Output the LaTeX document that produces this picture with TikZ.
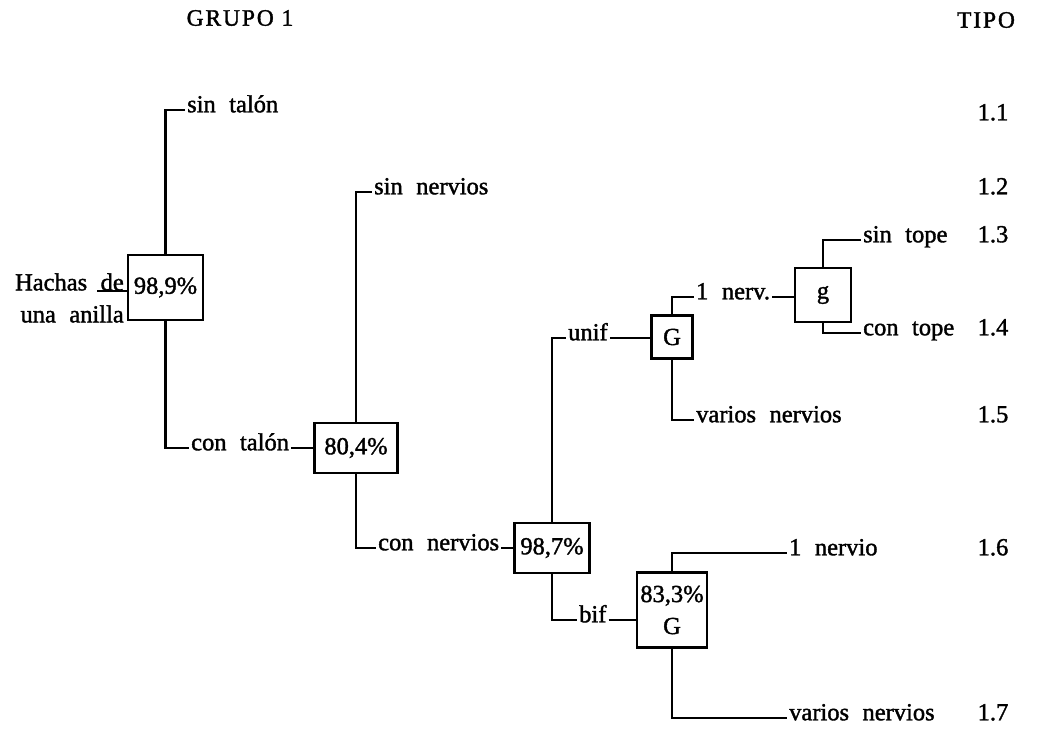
\documentclass[tikz,border=0pt]{standalone}
\usepackage{fontspec}
\setmainfont{Liberation Serif}[WordSpace=2.2, FakeBold=1.5]
\newfontfamily\headfont{Liberation Serif}[LetterSpace=8, FakeBold=1.5]
\usetikzlibrary{positioning}
\tikzset{
  cbox/.style={rectangle, draw, line width=2.3pt, inner sep=1pt, align=center},
  clab/.style={anchor=west, inner sep=2pt, text height=0.67em, text depth=0.22em},
  cnum/.style={inner sep=0pt, text height=0.67em, text depth=0.22em},
  chead/.style={inner sep=0pt, font=\headfont\fontsize{23.5}{26}\selectfont},
  clin/.style={line width=2.6pt}
}

\begin{document}
\begin{tikzpicture}[x=1pt, y=-1pt, font=\fontsize{24.5}{32}\selectfont]
\useasboundingbox (0,0) rectangle (1038,732);
\node[chead] (grupo) at (240,18) {GRUPO 1};
\node[chead] (tipo) at (986,20) {TIPO};
% cajas
\node[cbox, minimum width=75pt, minimum height=65pt] (root) at (165.5,287.5) {98,9\%};
\node[cbox, minimum width=83pt, minimum height=50pt] (talon) at (356,448) {80,4\%};
\node[cbox, minimum width=75pt, minimum height=50pt] (nerv) at (552,548) {98,7\%};
\node[cbox, minimum width=41pt, minimum height=43pt] (gunif) at (672,337) {G};
\node[cbox, minimum width=56pt, minimum height=54pt] (gtope) at (823,295) {g};
\node[cbox, minimum width=70pt, minimum height=75pt] (gbif) at (672,610) {83,3\%\\G};
% textos
\node[align=right, anchor=east, inner sep=0pt] (hachas) at (124,298) {Hachas de\\una anilla};
\coordinate (hin) at (97,291);
\node[clab] (sintalon) at (185,110) {sin talón};
\node[clab] (contalon) at (189,448) {con talón};
\node[clab] (sinnerv) at (372,192) {sin nervios};
\node[clab] (connerv) at (376,548) {con nervios};
\node[clab] (unif) at (566,338) {unif};
\node[clab] (bif) at (577,620) {bif};
\node[clab] (nerv1) at (694,297) {1 nerv.};
\node[clab] (varios1) at (694,420) {varios nervios};
\node[clab] (sintope) at (861,240) {sin tope};
\node[clab] (contope) at (861,333) {con tope};
\node[clab] (nervio1) at (787,553) {1 nervio};
\node[clab] (varios2) at (787,718) {varios nervios};
% tipos
\node[cnum] (t11) at (993,118) {1.1};
\node[cnum] (t12) at (993,192) {1.2};
\node[cnum] (t13) at (993,240) {1.3};
\node[cnum] (t14) at (993,333) {1.4};
\node[cnum] (t15) at (993,420) {1.5};
\node[cnum] (t16) at (993,553) {1.6};
\node[cnum] (t17) at (993,718) {1.7};
% ramas
\draw[clin] (hin) -- (hin -| root.west);
\draw[clin] (root.north) |- (sintalon.west);
\draw[clin] (root.south) |- (contalon.west);
\draw[clin] (contalon.east) -- (contalon.east -| talon.west);
\draw[clin] (talon.north) |- (sinnerv.west);
\draw[clin] (talon.south) |- (connerv.west);
\draw[clin] (connerv.east) -- (connerv.east -| nerv.west);
\draw[clin] (nerv.north) |- (unif.west);
\draw[clin] (nerv.south) |- (bif.west);
\draw[clin] (unif.east) -- (unif.east -| gunif.west);
\draw[clin] (bif.east) -- (bif.east -| gbif.west);
\draw[clin] (gunif.north) |- (nerv1.west);
\draw[clin] (gunif.south) |- (varios1.west);
\draw[clin] (nerv1.east) -- (nerv1.east -| gtope.west);
\draw[clin] (gtope.north) |- (sintope.west);
\draw[clin] (gtope.south) |- (contope.west);
\draw[clin] (gbif.north) |- (nervio1.west);
\draw[clin] (gbif.south) |- (varios2.west);
\end{tikzpicture}
\end{document}
